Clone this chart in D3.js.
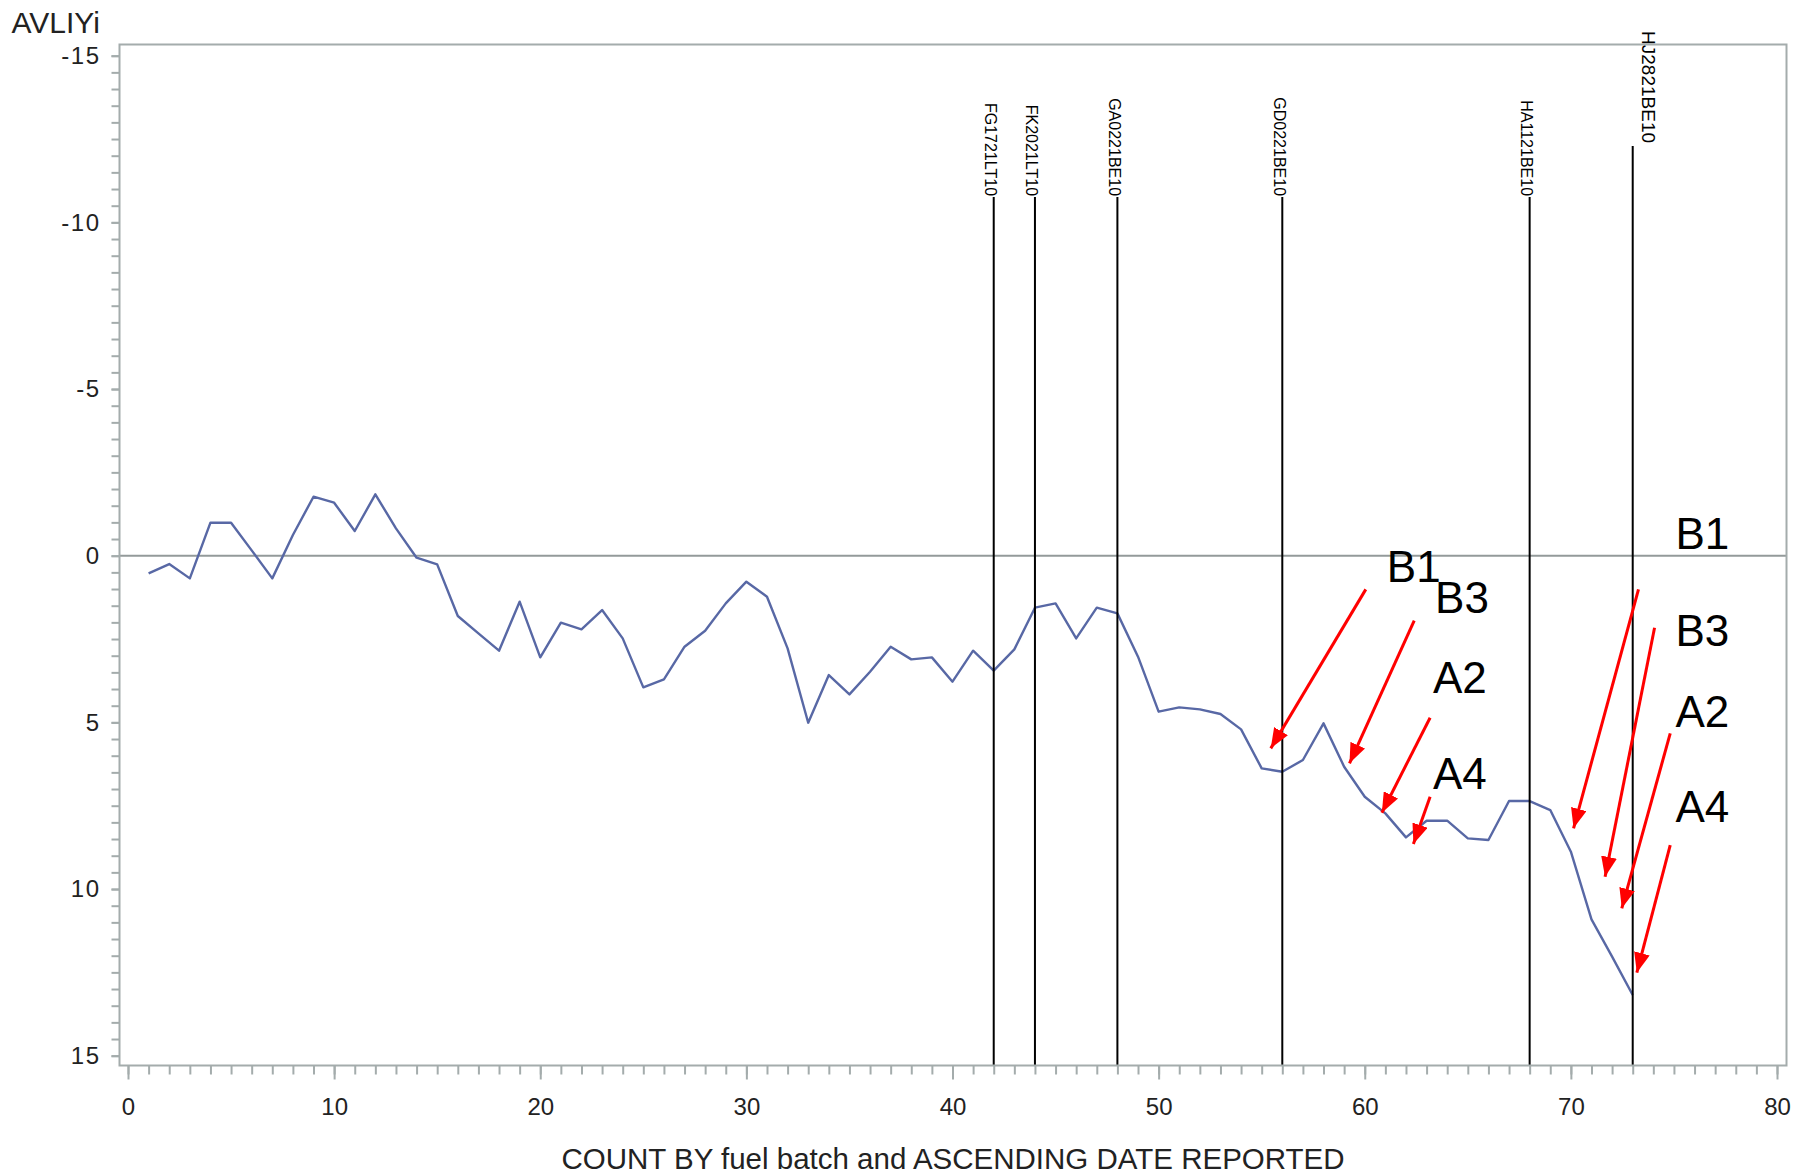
<!DOCTYPE html>
<html>
<head>
<meta charset="utf-8">
<script src="https://cdn.jsdelivr.net/npm/d3@7"></script>
<style>
  body { margin: 0; background: #fff; }
  svg { display: block; font-family: "Liberation Sans", Arial, sans-serif; }
</style>
</head>
<body>
<div id="chart"></div>
<script>
// series: AVLIYi by count (x = 1..73)
const counts = d3.range(1, 74);
const values = [0.53, 0.25, 0.68, -0.99, -0.99, -0.16, 0.68, -0.62, -1.77, -1.59,
  -0.74, -1.84, -0.82, 0.06, 0.26, 1.81, 2.33, 2.85, 1.38, 3.05,
  2.01, 2.21, 1.63, 2.48, 3.95, 3.71, 2.73, 2.25, 1.43, 0.78,
  1.23, 2.78, 5.01, 3.58, 4.16, 3.48, 2.73, 3.11, 3.05, 3.78,
  2.85, 3.45, 2.81, 1.56, 1.43, 2.48, 1.56, 1.73, 3.03, 4.68,
  4.55, 4.61, 4.75, 5.21, 6.38, 6.48, 6.13, 5.03, 6.33, 7.23,
  7.73, 8.45, 7.95, 7.95, 8.48, 8.53, 7.36, 7.36, 7.63, 8.88,
  10.91, 12.03, 13.18];

// fuel batch reference lines
const refX = [42, 44, 48, 56, 68, 73];
const refNames = ["FG1721LT10", "FK2021LT10", "GA0221BE10", "GD0221BE10", "HA1121BE10", "HJ2821BE10"];
const refTop = [-10.76, -10.76, -10.76, -10.76, -10.76, -12.29];

// axis ticks
const xMajor = d3.range(0, 81, 10);
const xMinor = d3.range(0, 81, 1);
const yMajor = [-15, -10, -5, 0, 5, 10, 15];
const yMinor = d3.range(-15, 15.01, 0.5);

// annotations (data units): label position, arrow start, arrow tip
const noteLabels = ["B1", "B3", "A2", "A4", "B1", "B3", "A2", "A4"];
const noteText = [[61.07, 0.79], [63.41, 1.72], [63.31, 4.12], [63.31, 7.0],
  [75.07, -0.2], [75.07, 2.71], [75.07, 5.14], [75.07, 7.99]];
const arrowFrom = [[60.05, 1.01], [62.40, 1.95], [63.17, 4.86], [63.17, 7.23],
  [73.28, 1.01], [74.06, 2.16], [74.82, 5.33], [74.82, 8.68]];
const arrowTo = [[55.44, 5.78], [59.26, 6.23], [60.83, 7.71], [62.36, 8.65],
  [70.13, 8.18], [71.66, 9.63], [72.47, 10.58], [73.20, 12.51]];

const W = 1806, H = 1175;
const frame = { left: 119.5, top: 44.5, right: 1786.5, bottom: 1065.5 };
const axisColor = "#a4acac";

const svg = d3.select("#chart")
  .append("svg")
  .attr("width", W)
  .attr("height", H);

const x = d3.scaleLinear().domain([0, 80]).range([128, 1777]);
const y = d3.scaleLinear().domain([-15, 15]).range([55.7, 1055.7]);

// arrow head
svg.append("defs").append("marker")
  .attr("id", "head")
  .attr("markerUnits", "userSpaceOnUse")
  .attr("viewBox", "0 0 20 16")
  .attr("refX", 20).attr("refY", 8)
  .attr("markerWidth", 20).attr("markerHeight", 16)
  .attr("orient", "auto")
  .append("path")
  .attr("d", "M0,0 L20,8 L0,16 Z")
  .attr("fill", "#ff0000");

// zero reference line
svg.append("line")
  .attr("x1", frame.left).attr("x2", frame.right)
  .attr("y1", y(0)).attr("y2", y(0))
  .attr("stroke", "#939a9a")
  .attr("stroke-width", 2);

// the series
const line = d3.line()
  .x((d, i) => x(counts[i]))
  .y(d => y(d));

svg.append("path")
  .datum(values)
  .attr("fill", "none")
  .attr("stroke", "#5868a5")
  .attr("stroke-width", 2.4)
  .attr("stroke-linejoin", "round")
  .attr("d", line);

// vertical batch lines + labels
refX.forEach((rx, i) => {
  const last = i === refX.length - 1;
  svg.append("line")
    .attr("x1", x(rx)).attr("x2", x(rx))
    .attr("y1", frame.bottom).attr("y2", y(refTop[i]))
    .attr("stroke", "#000")
    .attr("stroke-width", 2);
  const lx = last ? x(rx) + 16 : x(rx) - 3;
  svg.append("text")
    .attr("transform", `translate(${lx},${y(refTop[i]) - (last ? 3 : 1)}) rotate(90)`)
    .attr("text-anchor", "end")
    .attr("dy", "0.35em")
    .style("font-size", last ? "19px" : "16px")
    .style("fill", "#000")
    .text(refNames[i]);
});

// frame
svg.append("rect")
  .attr("x", frame.left).attr("y", frame.top)
  .attr("width", frame.right - frame.left)
  .attr("height", frame.bottom - frame.top)
  .attr("fill", "none")
  .attr("stroke", axisColor)
  .attr("stroke-width", 2);

// x axis: minor then major
const xMinorAxis = svg.append("g")
  .attr("transform", `translate(0,${frame.bottom})`)
  .call(d3.axisBottom(x).tickValues(xMinor).tickSize(9).tickFormat(""));
const xMajorAxis = svg.append("g")
  .attr("transform", `translate(0,${frame.bottom})`)
  .call(d3.axisBottom(x).tickValues(xMajor).tickSize(14).tickPadding(18).tickFormat(d => String(d)));

// y axis: minor then major
const yMinorAxis = svg.append("g")
  .attr("transform", `translate(${frame.left},0)`)
  .call(d3.axisLeft(y).tickValues(yMinor).tickSize(8).tickFormat(""));
const yMajorAxis = svg.append("g")
  .attr("transform", `translate(${frame.left},0)`)
  .call(d3.axisLeft(y).tickValues(yMajor).tickSize(8).tickPadding(11).tickFormat(d => String(d)));

[xMinorAxis, xMajorAxis, yMinorAxis, yMajorAxis].forEach(g => {
  g.select(".domain").remove();
  g.selectAll(".tick line").attr("stroke", axisColor).attr("stroke-width", 2);
  g.selectAll(".tick text")
    .style("font-family", "'Liberation Sans', Arial, sans-serif")
    .style("font-size", "24px")
    .style("fill", "#222");
});
yMajorAxis.selectAll(".tick text").style("letter-spacing", "1.5px");

// titles
svg.append("text")
  .attr("x", 11.5).attr("y", 33)
  .style("font-size", "30px")
  .style("fill", "#222")
  .text("AVLIYi");

svg.append("text")
  .attr("x", (frame.left + frame.right) / 2).attr("y", 1169)
  .attr("text-anchor", "middle")
  .style("font-size", "29.5px")
  .style("fill", "#222")
  .text("COUNT BY fuel batch and ASCENDING DATE REPORTED");

// red arrows and their labels
arrowFrom.forEach((f, i) => {
  svg.append("line")
    .attr("x1", x(f[0])).attr("y1", y(f[1]))
    .attr("x2", x(arrowTo[i][0])).attr("y2", y(arrowTo[i][1]))
    .attr("stroke", "#ff0000")
    .attr("stroke-width", 3)
    .attr("marker-end", "url(#head)");
});

svg.selectAll(".note")
  .data(noteLabels)
  .enter()
  .append("text")
  .attr("class", "note")
  .attr("x", (d, i) => x(noteText[i][0]))
  .attr("y", (d, i) => y(noteText[i][1]))
  .style("font-size", "44px")
  .style("fill", "#000")
  .text(d => d);
</script>
</body>
</html>
